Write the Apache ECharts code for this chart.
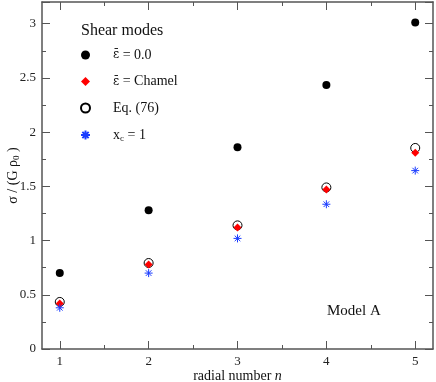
<!DOCTYPE html>
<html style="height: 100%">
<head>
<meta charset="utf-8">
</head>
<body style="height: 100%; margin: 0; background: #fff">
<div id="container" style="width: 436px; height: 382px"></div>
<script type="text/javascript" src="https://cdn.jsdelivr.net/npm/echarts@6/dist/echarts.min.js"></script>
<script type="text/javascript">
// radial numbers n
var nValues = [1, 2, 3, 4, 5];
// sigma / (G rho0) for each mode set
var epsZero = [0.70, 1.28, 1.86, 2.435, 3.01];
var epsChamel = [0.42, 0.78, 1.12, 1.47, 1.81];
var eq76 = [0.434, 0.793, 1.14, 1.49, 1.854];
var xcOne = [0.38, 0.70, 1.02, 1.335, 1.645];
var xMinorTicks = [1.5, 2.5, 3.5, 4.5];
var seriesNames = ['eps0', 'epsChamel', 'eq76', 'xc1'];

function pairs(ys) {
    return nValues.map(function (n, i) { return [n, ys[i]]; });
}

var font = 'Liberation Serif';
var axisColor = '#555';
var starPath = 'path://M5,0L5,10M0,5L10,5M1.5,1.5L8.5,8.5M1.5,8.5L8.5,1.5';

var dom = document.getElementById('container');
var myChart = echarts.init(dom);

function xAxisDef(pos, ticks, len, line, labels) {
    return {
        type: 'value', position: pos, min: 0.8, max: 5.2,
        axisLine: {show: line, onZero: false, lineStyle: {color: axisColor, width: 1.5}},
        axisTick: {show: true, inside: true, length: len, customValues: ticks,
            lineStyle: {color: axisColor, width: 1}},
        axisLabel: {show: labels, customValues: nValues, fontFamily: font, fontSize: 13, color: '#222', margin: 6},
        splitLine: {show: false}
    };
}

var txt = {fontFamily: font, fontSize: 14, color: '#111', lineHeight: 16};
var eps = {fontFamily: 'DejaVu Serif', fontSize: 12, color: '#111', lineHeight: 16};
var sub = {fontFamily: font, fontSize: 9, color: '#111', lineHeight: 16, padding: [8, 0, 0, 0]};

var option = {
    animation: false,
    title: {
        text: 'Shear modes', left: 76, top: 18,
        textStyle: {fontFamily: font, fontSize: 16, fontWeight: 'normal', color: '#111'}
    },
    legend: {
        orient: 'vertical', left: 75, top: 42, itemGap: 10.5,
        itemWidth: 9, itemHeight: 9,
        data: seriesNames,
        formatter: function (name) {
            if (name === 'eps0') return '{g|}{e|ε̄}{t| = 0.0}';
            if (name === 'epsChamel') return '{g|}{e|ε̄}{t| = Chamel}';
            if (name === 'eq76') return '{g|}{t|Eq. (76)}';
            return '{g|}{t|x}{s|c}{t| = 1}';
        },
        textStyle: {
            fontFamily: font, fontSize: 14, color: '#111', lineHeight: 16,
            rich: {t: txt, e: eps, s: sub, g: {width: 18, lineHeight: 16}}
        }
    },
    graphic: [{
        type: 'text', left: 327, top: 304,
        style: {text: 'Model A', fontFamily: font, fontSize: 15, fill: '#111'}
    }],
    grid: {left: 42, right: 3, top: 2, bottom: 33, outerBoundsMode: 'none', containLabel: false},
    xAxis: [
        Object.assign(xAxisDef('bottom', nValues, 8, true, true), {
            name: '{t|radial number }{i|n}', nameLocation: 'middle', nameGap: 20,
            nameMoveOverlap: false,
            nameTextStyle: {rich: {
                t: {fontFamily: font, fontSize: 14, color: '#111'},
                i: {fontFamily: font, fontSize: 14, fontStyle: 'italic', color: '#111'}
            }}
        }),
        xAxisDef('bottom', xMinorTicks, 4, false, false),
        xAxisDef('top', nValues, 8, true, false),
        xAxisDef('top', xMinorTicks, 4, false, false)
    ],
    yAxis: [
        {
            type: 'value', position: 'left', min: 0, max: 3.2, interval: 0.5,
            name: '{t|σ / (G ρ}{s|0}{t| )}', nameLocation: 'middle', nameGap: 20, nameRotate: 90,
            nameMoveOverlap: false,
            nameTextStyle: {rich: {
                t: {fontFamily: font, fontSize: 14, color: '#111', lineHeight: 18},
                s: {fontFamily: font, fontSize: 9, color: '#111', lineHeight: 18, padding: [8, 0, 0, 0]}
            }},
            axisLine: {show: true, onZero: false, lineStyle: {color: axisColor, width: 1.5}},
            axisTick: {inside: true, length: 8, lineStyle: {color: axisColor}},
            minorTick: {show: true, splitNumber: 2, length: 4, lineStyle: {color: axisColor}},
            axisLabel: {fontFamily: font, fontSize: 13, color: '#222', margin: 6, showMaxLabel: false},
            splitLine: {show: false}, minorSplitLine: {show: false}
        },
        {
            type: 'value', position: 'right', min: 0, max: 3.2, interval: 0.5,
            axisLine: {show: true, onZero: false, lineStyle: {color: axisColor, width: 1.5}},
            axisTick: {inside: true, length: 8, lineStyle: {color: axisColor}},
            minorTick: {show: true, splitNumber: 2, length: 4, lineStyle: {color: axisColor}},
            axisLabel: {show: false},
            splitLine: {show: false}, minorSplitLine: {show: false}
        }
    ],
    series: [
        {
            name: 'eps0', type: 'scatter', symbol: 'circle', symbolSize: 8,
            itemStyle: {color: '#000', opacity: 1}, data: pairs(epsZero), z: 3
        },
        {
            name: 'eq76', type: 'scatter', symbol: 'circle', symbolSize: 9,
            itemStyle: {color: '#fff', borderColor: '#000', borderWidth: 1, opacity: 1}, data: pairs(eq76), z: 2
        },
        {
            name: 'epsChamel', type: 'scatter', symbol: 'diamond', symbolSize: 8,
            itemStyle: {color: '#ff0000', opacity: 1}, data: pairs(epsChamel), z: 4
        },
        {
            name: 'xc1', type: 'scatter', symbol: starPath, symbolSize: 8,
            itemStyle: {color: '#1a3cff', borderColor: '#1a3cff', borderWidth: 1, opacity: 1},
            data: pairs(xcOne), z: 5
        }
    ]
};

myChart.setOption(option);
</script>
</body>
</html>
